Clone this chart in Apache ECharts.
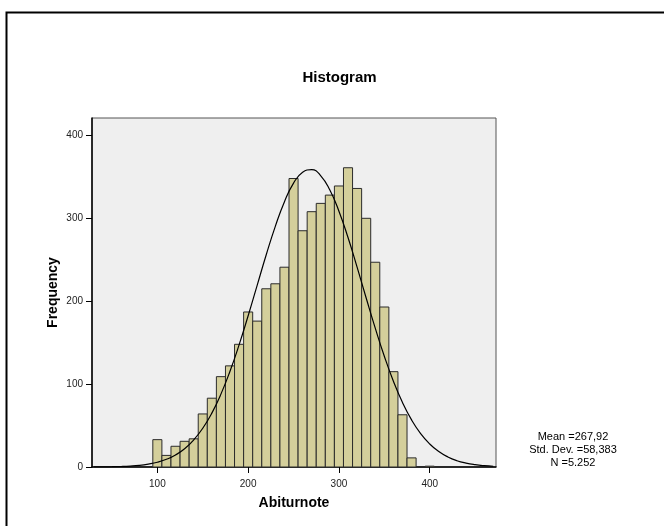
<!DOCTYPE html>
<html>
<head>
<meta charset="utf-8">
<script src="https://cdn.jsdelivr.net/npm/echarts@6/dist/echarts.min.js"></script>
<style>
html,body{margin:0;padding:0;background:#fff;}
#chart{width:664px;height:526px;}
</style>
</head>
<body>
<div id="chart"></div>
<script>
// ---- data ----
const binWidth = 10;
const binCenters = [100,110,120,130,140,150,160,170,180,190,200,210,220,230,240,250,260,270,280,290,300,310,320,330,340,350,360,370,380,390,400];
const counts     = [33, 14, 25, 31, 34, 64, 83, 109,122,148,187,176,215,221,241,348,285,308,318,328,339,361,336,300,247,193,115,63, 11, 0,  1];
const curveX = [30,40,50,60,70,80,90,100,110,120,130,140,150,160,170,180,190,200,210,220,230,240,250,260,270,280,290,300,310,320,330,340,350,360,370,380,390,400,410,420,430,440,450,460,470];
const curveY = [0.09,0.18,0.34,0.63,1.15,2.0,3.5,5.7,9.3,14.5,22.0,32.6,46.7,65.0,87.9,115.5,147.3,182.4,219.4,256.3,290.6,320.1,342.4,355.6,358.7,351.3,334.1,308.6,276.8,241.1,203.9,167.5,133.6,103.5,77.8,56.8,40.3,27.8,18.6,12.1,7.6,4.7,2.8,1.6,0.9];
const xTicks = [100,200,300,400];
const yTicks = [0,100,200,300,400];
const titleText = 'Histogram';
const xName = 'Abiturnote';
const yName = 'Frequency';
const statsLines = ['Mean =267,92', 'Std. Dev. =58,383', 'N =5.252'];

const FONT = '"Liberation Sans", Arial, Helvetica, sans-serif';

const barData = [];
for (let i = 0; i < binCenters.length; i++) {
  if (counts[i] > 0) barData.push([binCenters[i], counts[i]]);
}
const lineData = curveX.map((x, i) => [x, curveY[i]]);

const chart = echarts.init(document.getElementById('chart'), null, {renderer: 'canvas'});
chart.setOption({
  animation: false,
  backgroundColor: '#ffffff',
  grid: {
    left: 92, top: 118, right: 168, bottom: 59,
    show: true, backgroundColor: '#efefef', borderColor: '#555', borderWidth: 1
  },
  xAxis: {
    type: 'value', min: 28, max: 473,
    name: xName, nameLocation: 'middle', nameGap: 29, nameMoveOverlap: false,
    nameTextStyle: {fontFamily: FONT, fontWeight: 'bold', fontSize: 14, color: '#000'},
    axisLine: {show: true, lineStyle: {color: '#000', width: 1.5}},
    axisTick: {show: true, length: 6, lineStyle: {color: '#000'}, customValues: xTicks},
    axisLabel: {customValues: xTicks, margin: 12, fontFamily: FONT, fontSize: 10, color: '#222'},
    splitLine: {show: false}
  },
  yAxis: {
    type: 'value', min: 0, max: 421,
    name: yName, nameLocation: 'middle', nameGap: 32, nameMoveOverlap: false,
    nameTextStyle: {fontFamily: FONT, fontWeight: 'bold', fontSize: 14, color: '#000'},
    axisLine: {show: true, lineStyle: {color: '#000', width: 1.5}},
    axisTick: {show: true, length: 6, lineStyle: {color: '#000'}, customValues: yTicks},
    axisLabel: {customValues: yTicks, margin: 9, fontFamily: FONT, fontSize: 10, color: '#222'},
    splitLine: {show: false}
  },
  series: [
    {
      type: 'custom',
      data: barData,
      clip: true,
      renderItem: function (params, api) {
        const x = api.value(0), y = api.value(1);
        const p0 = api.coord([x - binWidth / 2, y]);
        const p1 = api.coord([x + binWidth / 2, 0]);
        return {
          type: 'rect',
          shape: {x: p0[0], y: p0[1], width: p1[0] - p0[0], height: p1[1] - p0[1]},
          style: {fill: '#d4cf9b', stroke: '#2b2b2b', lineWidth: 1}
        };
      },
      z: 2
    },
    {
      type: 'line',
      data: lineData,
      smooth: true,
      showSymbol: false,
      symbol: 'none',
      clip: true,
      lineStyle: {color: '#000', width: 1.2},
      z: 3
    }
  ],
  graphic: [
    {
      type: 'rect', left: 4, top: 10, silent: true,
      shape: {x: 0, y: 0, width: 680, height: 540},
      style: {fill: 'none', stroke: '#000', lineWidth: 2}
    },
    {
      type: 'text', x: 339.5, y: 78, silent: true,
      style: {
        text: titleText,
        font: 'bold 15px ' + FONT,
        fill: '#000', textAlign: 'center', textVerticalAlign: 'middle'
      }
    },
    {
      type: 'text', x: 573, y: 430, silent: true,
      style: {
        text: statsLines.join('\n'),
        font: '11px ' + FONT,
        fill: '#000', textAlign: 'center', lineHeight: 13
      }
    }
  ]
});
</script>
</body>
</html>
